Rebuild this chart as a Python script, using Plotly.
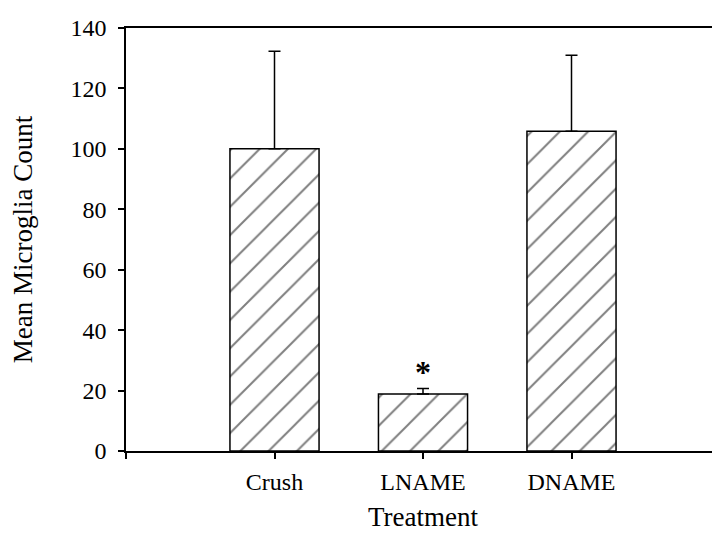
import plotly.graph_objects as go

categories = ["Crush", "LNAME", "DNAME"]
means = [100.0, 18.9, 105.8]
errors_up = [32.3, 1.8, 25.2]
y_ticks = [0, 20, 40, 60, 80, 100, 120, 140]

positions = [i + 1 for i in range(len(categories))]
FONT = "Liberation Serif, Times New Roman, serif"

fig = go.Figure()
fig.add_trace(go.Bar(
    x=positions,
    y=means,
    width=0.6,
    marker=dict(
        color="white",
        line=dict(color="black", width=1.5),
        pattern=dict(shape="/", fgcolor="black", bgcolor="white", size=20, solidity=0.1),
    ),
    error_y=dict(
        type="data",
        symmetric=False,
        array=errors_up,
        arrayminus=[0] * len(errors_up),
        color="black",
        thickness=1.5,
        width=6,
    ),
    showlegend=False,
))

# significance marker above LNAME
fig.add_annotation(
    x=positions[1], y=means[1] + errors_up[1],
    text="<b>*</b>", showarrow=False,
    yanchor="bottom", yshift=-4,
    font=dict(family=FONT, size=32, color="black"),
)

fig.update_layout(
    width=720, height=534,
    margin=dict(l=118, r=8, t=20, b=91),
    plot_bgcolor="white", paper_bgcolor="white",
    font=dict(family=FONT, size=24, color="black"),
)
fig.update_xaxes(
    range=[0, len(categories) + 1],
    tickvals=[0] + positions + [len(categories) + 1],
    ticktext=[""] + categories + [""],
    ticks="outside", ticklen=6, tickwidth=1.5, tickcolor="black",
    showline=True, linecolor="black", linewidth=1.5, mirror=True,
    showgrid=False, zeroline=False, automargin=False,
    ticklabelstandoff=2,
    tickfont=dict(family=FONT, size=24),
    title=dict(text="Treatment", font=dict(family=FONT, size=27), standoff=14),
)
fig.update_yaxes(
    range=[0, 140],
    tickvals=y_ticks,
    ticks="outside", ticklen=6, tickwidth=1.5, tickcolor="black",
    showline=True, linecolor="black", linewidth=1.5, mirror=True,
    showgrid=False, zeroline=False, automargin=False,
    ticklabelstandoff=7,
    tickfont=dict(family=FONT, size=24),
    title=dict(text="Mean Microglia Count", font=dict(family=FONT, size=27), standoff=31),
)

fig.write_html("out.html")
